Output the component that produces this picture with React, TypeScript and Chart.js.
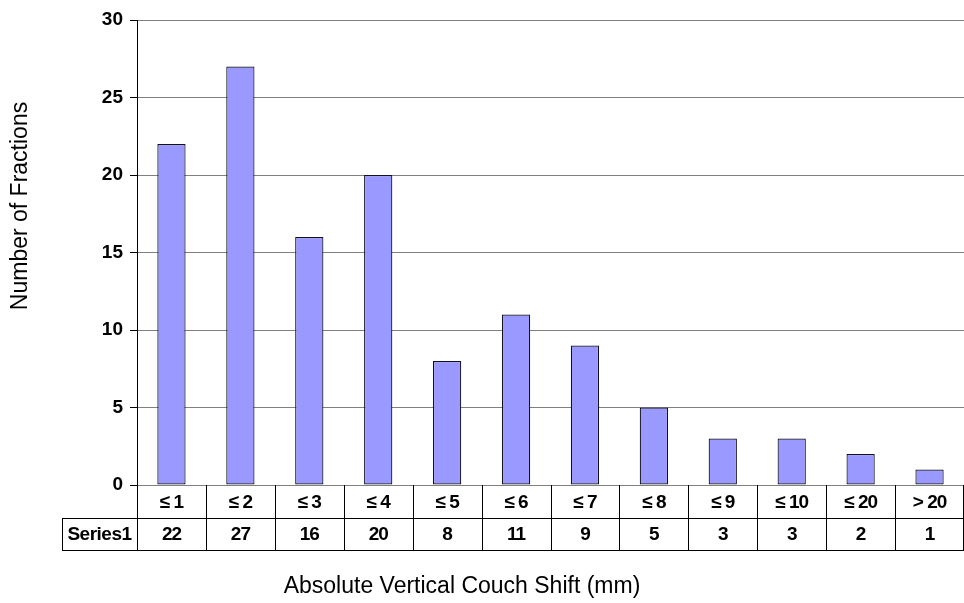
import React, { useEffect, useRef } from "react";
import { Chart, registerables } from "chart.js";

Chart.register(...registerables);

const categories = ["≤ 1", "≤ 2", "≤ 3", "≤ 4", "≤ 5", "≤ 6", "≤ 7", "≤ 8", "≤ 9", "≤ 10", "≤ 20", "> 20"];
const seriesName = "Series1";
const seriesValues = [22, 27, 16, 20, 8, 11, 9, 5, 3, 3, 2, 1];
const yTitle = "Number of Fractions";
const xTitle = "Absolute Vertical Couch Shift (mm)";

const FONT = "'Liberation Sans', Arial, sans-serif";

const tablePlugin = {
  id: "dataTable",
  afterDraw(chart: any) {
    const ctx = chart.ctx as CanvasRenderingContext2D;
    const area = chart.chartArea;
    const x = chart.scales.x;
    const n = categories.length;
    const step = (area.right - area.left) / n;
    const row1Top = area.bottom;
    const row1Bottom = area.bottom + 33;
    const row2Bottom = row1Bottom + 32;
    const leftCell = 62;
    ctx.save();
    ctx.strokeStyle = "#000";
    ctx.lineWidth = 1;
    ctx.beginPath();
    for (let i = 0; i <= n; i++) {
      let px = Math.round(area.left + i * step) + 0.5;
      if (px > chart.width) px = chart.width - 0.5;
      ctx.moveTo(px, row1Top);
      ctx.lineTo(px, row2Bottom);
    }
    ctx.moveTo(leftCell + 0.5, row1Bottom);
    ctx.lineTo(leftCell + 0.5, row2Bottom);
    ctx.moveTo(leftCell, row1Bottom + 0.5);
    ctx.lineTo(area.right, row1Bottom + 0.5);
    ctx.moveTo(leftCell, row2Bottom + 0.5);
    ctx.lineTo(area.right, row2Bottom + 0.5);
    ctx.stroke();

    ctx.fillStyle = "#000";
    ctx.font = `bold 19px ${FONT}`;
    (ctx as any).letterSpacing = "-1px";
    ctx.textAlign = "center";
    ctx.textBaseline = "middle";
    for (let i = 0; i < n; i++) {
      const cx = x.getPixelForValue(i);
      ctx.fillText(categories[i], cx, (row1Top + row1Bottom) / 2 + 1);
      ctx.fillText(String(seriesValues[i]), cx, (row1Bottom + row2Bottom) / 2 + 1);
    }
    (ctx as any).letterSpacing = "-0.5px";
    ctx.fillText(seriesName, (leftCell + area.left) / 2, (row1Bottom + row2Bottom) / 2 + 1);

    (ctx as any).letterSpacing = "0px";
    ctx.font = `23px ${FONT}`;
    ctx.fillText(xTitle, 462, 587);
    ctx.translate(21, 206);
    ctx.rotate(-Math.PI / 2);
    ctx.fillText(yTitle, 0, 0);
    ctx.restore();
  },
};

export default function App() {
  const ref = useRef<HTMLCanvasElement>(null);
  useEffect(() => {
    const chart = new Chart(ref.current!, {
      type: "bar",
      data: {
        labels: categories,
        datasets: [
          {
            label: seriesName,
            data: seriesValues,
            backgroundColor: "#9999FF",
            borderColor: "#111122",
            borderWidth: 1.2,
            borderSkipped: false,
            categoryPercentage: 1,
            barPercentage: 0.41,
          },
        ],
      },
      options: {
        responsive: false,
        animation: false,
        devicePixelRatio: 1,
        layout: { padding: { top: 20, right: 0, bottom: 118, left: 0 } },
        plugins: { legend: { display: false }, tooltip: { enabled: false } },
        scales: {
          x: { display: false },
          y: {
            min: 0,
            max: 30,
            afterFit: (s: any) => {
              s.width = 137;
            },
            ticks: {
              stepSize: 5,
              color: "#000",
              padding: 7,
              font: { family: FONT, size: 19, weight: "bold" },
            },
            grid: { color: "#808080", lineWidth: 1, tickLength: 7, tickColor: "#000" },
            border: { display: true, color: "#000" },
          },
        },
      },
      plugins: [tablePlugin],
    });
    return () => chart.destroy();
  }, []);
  return (
    <div style={{ position: "absolute", left: 0, top: 0, width: 964, height: 603, background: "#fff" }}>
      <canvas ref={ref} width={964} height={603} />
    </div>
  );
}
